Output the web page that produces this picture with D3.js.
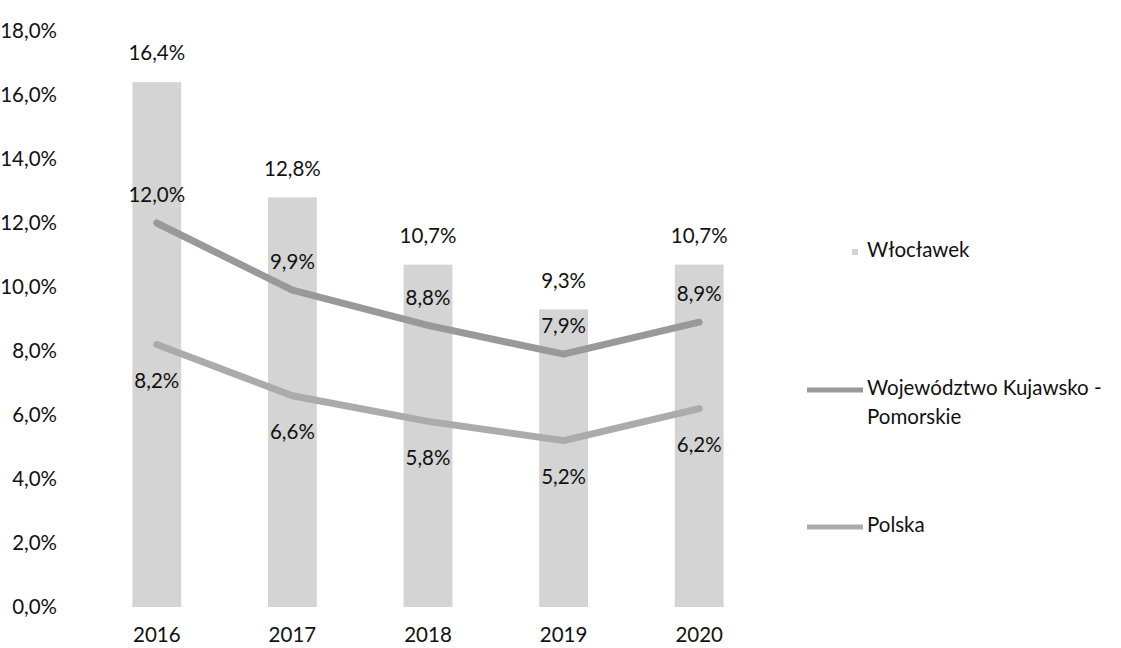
<!DOCTYPE html>
<html>
<head>
<meta charset="UTF-8">
<title>Stopa bezrobocia</title>
<script src="https://d3js.org/d3.v7.min.js"></script>
<style>
	body { margin: 0; background: #fff; }
	svg text { font-family: Lato, "Noto Sans", sans-serif; fill: #111; }
</style>
</head>
<body>
	<svg id="chart" width="1121" height="648"></svg>
	<script type="text/javascript">
		var years = [ "2016", "2017", "2018", "2019", "2020" ];
		var wloclawek = [ 16.4, 12.8, 10.7, 9.3, 10.7 ];
		var wojewodztwo = [ 12.0, 9.9, 8.8, 7.9, 8.9 ];
		var polska = [ 8.2, 6.6, 5.8, 5.2, 6.2 ];
		var yTicks = [ 0, 2, 4, 6, 8, 10, 12, 14, 16, 18 ];

		var fmt = function(v)
		{
			return v.toFixed(1).replace(".", ",") + "%";
		};

		var svg = d3.select("#chart");
		var fontSize = 20.5;

		var x = d3.scaleBand().domain(years).range([ 89, 767 ]).paddingInner(0.64).paddingOuter(0.32);
		var y = d3.scaleLinear().domain([ 0, 18 ]).range([ 607, 31 ]);
		var cx = function(d, i)
		{
			return x(years[i]) + x.bandwidth() / 2;
		};

		// osie: same etykiety, bez linii
		var yAxis = svg.append("g").attr("transform", "translate(57,0)")
			.call(d3.axisLeft(y).tickValues(yTicks).tickSize(0).tickPadding(0).tickFormat(fmt));
		yAxis.select(".domain").remove();
		yAxis.selectAll("text").style("font-size", fontSize + "px").attr("dy", "0.32em");

		var xAxis = svg.append("g").attr("transform", "translate(0,624)")
			.call(d3.axisBottom(x).tickSize(0).tickPadding(0));
		xAxis.select(".domain").remove();
		xAxis.selectAll("text").style("font-size", fontSize + "px").attr("dy", "0.9em");

		// słupki - Włocławek
		svg.selectAll("rect.bar").data(wloclawek).enter()
			.append("rect").classed("bar", true)
			.attr("x", function(d, i) { return x(years[i]); })
			.attr("y", function(d) { return y(d); })
			.attr("width", x.bandwidth())
			.attr("height", function(d) { return y(0) - y(d); })
			.attr("fill", "#d4d4d4");

		svg.selectAll("text.barlabel").data(wloclawek).enter()
			.append("text").classed("barlabel", true)
			.attr("x", cx)
			.attr("y", function(d) { return y(d) - 27; })
			.attr("text-anchor", "middle").attr("dominant-baseline", "middle")
			.style("font-size", fontSize + "px")
			.text(fmt);

		// linie
		var line = d3.line()
			.x(cx)
			.y(function(d) { return y(d); });

		var series = [
			{ name: "wojewodztwo", values: wojewodztwo, color: "#999999", dy: -26 },
			{ name: "polska", values: polska, color: "#ababab", dy: 38 }
		];

		series.forEach(function(s)
		{
			svg.append("path").datum(s.values)
				.attr("d", line)
				.attr("fill", "none")
				.attr("stroke", s.color)
				.attr("stroke-width", 7)
				.attr("stroke-linejoin", "round")
				.attr("stroke-linecap", "round");

			svg.selectAll("text.l-" + s.name).data(s.values).enter()
				.append("text").classed("l-" + s.name, true)
				.attr("x", cx)
				.attr("y", function(d) { return y(d) + s.dy; })
				.attr("text-anchor", "middle").attr("dominant-baseline", "middle")
				.style("font-size", fontSize + "px")
				.text(fmt);
		});

		// legenda
		var legend = svg.append("g").style("font-size", fontSize + "px");

		legend.append("rect").attr("x", 852).attr("y", 249).attr("width", 6).attr("height", 6).attr("fill", "#d4d4d4");
		legend.append("text").attr("x", 867).attr("y", 252).attr("dominant-baseline", "middle").text("Włocławek");

		legend.append("line").attr("x1", 807).attr("x2", 863).attr("y1", 390).attr("y2", 390)
			.attr("stroke", "#999999").attr("stroke-width", 5);
		legend.append("text").attr("x", 867).attr("y", 390).attr("dominant-baseline", "middle").text("Województwo Kujawsko -");
		legend.append("text").attr("x", 867).attr("y", 419).attr("dominant-baseline", "middle").text("Pomorskie");

		legend.append("line").attr("x1", 807).attr("x2", 863).attr("y1", 527).attr("y2", 527)
			.attr("stroke", "#ababab").attr("stroke-width", 5);
		legend.append("text").attr("x", 867).attr("y", 527).attr("dominant-baseline", "middle").text("Polska");
	</script>
</body>
</html>
